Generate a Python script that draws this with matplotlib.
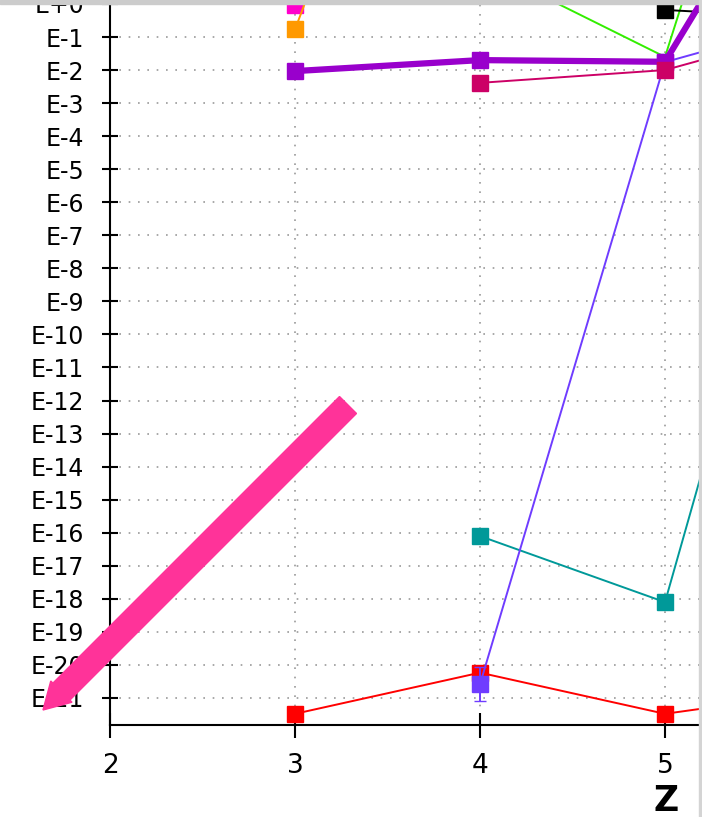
import numpy as np
import matplotlib
matplotlib.use('Agg')
import matplotlib.pyplot as plt
from matplotlib.patches import FancyArrow, Rectangle
from matplotlib.ticker import FixedLocator, FuncFormatter, NullLocator
from matplotlib.transforms import IdentityTransform

# data (y values are on a log scale)
z_red = [3, 4, 5, 6]
red = [3.3e-22, 5.8e-21, 3.3e-22, 2.0e-21]

z_teal = [4, 5, 6]
teal = [7.9e-17, 7.9e-19, 40.0]

z_blue = [4, 5, 6]
blue = [2.6e-21, 1.74e-2, 0.63]
blue_err_lo = [1.8e-21, 0, 0]
blue_err_hi = [5.9e-21, 0, 0]

z_green = [4, 5, 6]
green = [15.0, 2.5e-2, 1e16]

z_black = [5, 6]
black = [0.66, 0.33]

z_magenta = [3, 4]
magenta = [0.93, 1e15]

z_orange = [3, 4]
orange = [0.17, 1e14]

z_purple = [3, 4, 5, 6]
purple = [9.3e-3, 2.0e-2, 1.78e-2, 3e7]

z_crimson = [4, 5, 6]
crimson = [4.1e-3, 1.0e-2, 0.35]

W, H = 702, 817
fig = plt.figure(figsize=(W / 100, H / 100), dpi=100)
ax = fig.add_axes([110 / W, 92 / H, 1 - 110 / W, 1 - 92 / H])

ax.set_yscale('log')
ax.set_xlim(2, 5.2)
ax.set_ylim(10 ** -21.82, 10 ** 0.12)

ms = 11
lw = 1.4
ax.plot(z_red, red, color='#ff0000', marker='s', ms=ms, lw=lw, zorder=3)
ax.plot(z_teal, teal, color='#009999', marker='s', ms=ms, lw=lw, zorder=3)
ax.errorbar(z_blue, blue, yerr=[blue_err_lo, blue_err_hi], color='#6f3cff',
            marker='s', ms=ms, lw=lw, capsize=4.5, elinewidth=lw, zorder=4)
ax.plot(z_green, green, color='#33ee00', lw=lw, zorder=4)
ax.plot(z_black, black, color='#000000', marker='s', ms=ms, lw=lw, zorder=4)
ax.plot(z_magenta, magenta, color='#ff00cc', marker='s', ms=ms, lw=lw, zorder=4)
ax.plot(z_orange, orange, color='#ff9900', marker='s', ms=ms, lw=lw, zorder=4)
ax.plot(z_purple, purple, color='#9900cc', marker='s', ms=12, lw=4.5, zorder=5)
ax.plot(z_crimson, crimson, color='#cc0066', marker='s', ms=ms, lw=lw, zorder=6)

ax.yaxis.set_major_locator(FixedLocator(10.0 ** np.arange(-21, 1)))
ax.yaxis.set_minor_locator(NullLocator())
ax.yaxis.set_major_formatter(FuncFormatter(lambda v, p: 'E%+d' % round(np.log10(v))))
ax.set_xticks([2, 3, 4, 5])

ax.grid(True, color='#999999', lw=1.2, linestyle=(0, (1, 4.6)))
ax.set_axisbelow(True)
for s in ['top', 'right']:
    ax.spines[s].set_visible(False)
for s in ['left', 'bottom']:
    ax.spines[s].set_linewidth(1.5)

ax.tick_params(axis='y', direction='inout', length=11, width=1.5, labelsize=17, pad=13)
ax.tick_params(axis='x', direction='inout', length=18, width=1.5, labelsize=19, pad=11)

fig.text(666 / W, 1 - 801 / H, 'Z', fontsize=25, fontweight='bold', ha='center', va='center')

# frame edges of the screenshot
fig.add_artist(Rectangle((0, 1 - 4 / H), 1, 4 / H, transform=fig.transFigure,
                         color='#cccccc', zorder=10))
fig.add_artist(Rectangle((1 - 3 / W, 0), 3 / W, 1, transform=fig.transFigure,
                         color='#d4d4d4', zorder=10))

# pink arrow drawn over the chart
fig.add_artist(FancyArrow(348, H - 405, -305, -305, width=24, head_width=30,
                          head_length=26, length_includes_head=True,
                          color='#ff3399', transform=IdentityTransform(), zorder=11))

fig.savefig('out.png', dpi=100)
